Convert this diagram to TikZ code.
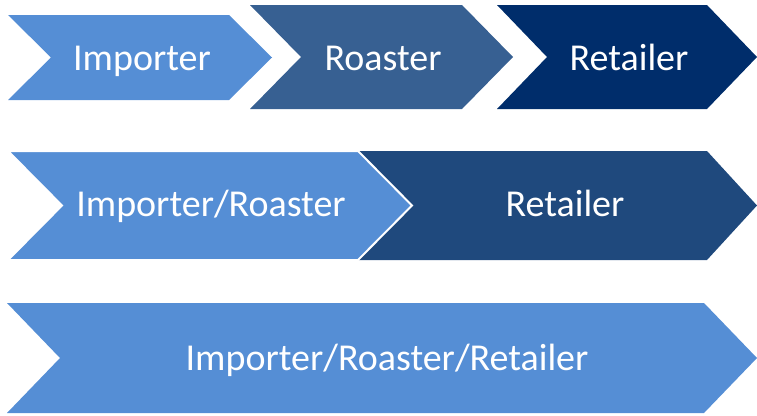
\documentclass[tikz,border=0pt]{standalone}
\usepackage{fontspec}
\setmainfont{Carlito}
\definecolor{lightb}{RGB}{85,142,213}
\definecolor{midb}{RGB}{55,96,146}
\definecolor{navyb}{RGB}{0,45,107}
\definecolor{darkb}{RGB}{31,73,125}
\newcommand\chevshape[6]{\path[#6] (#1,#3) -- ({#2-#5},#3) -- (#2,{(#3+#4)/2}) -- ({#2-#5},#4) -- (#1,#4) -- ({#1+#5},{(#3+#4)/2}) -- cycle;}
\begin{document}
\begin{tikzpicture}[x=1pt,y=-1pt,
  lbl/.style={text=white,anchor=base,inner sep=0pt,font=\fontsize{38}{40}\selectfont}]
\useasboundingbox (0,0) rectangle (757,415);
% row 1
\chevshape{8}{272}{15}{100}{43}{fill=lightb}
\chevshape{250}{513}{5}{109}{51}{fill=midb}
\chevshape{497}{757}{5}{109}{50}{fill=navyb}
\node[lbl] (imp1) at (142,70) {Importer};
\node[lbl] (roa1) at (383,70) {Roaster};
\node[lbl] (ret1) at (629,70) {Retailer};
% row 2
\chevshape{358}{757}{151}{260}{50}{fill=darkb}
\chevshape{8}{412}{151}{260}{54}{fill=lightb,draw=white,line width=2pt}
\node[lbl] (imro2) at (211,216) {Importer/Roaster};
\node[lbl] (ret2) at (565,216) {Retailer};
% row 3
\chevshape{7}{757}{303}{413}{53}{fill=lightb}
\node[lbl] (all3) at (387,370) {Importer/Roaster/Retailer};
\end{tikzpicture}
\end{document}
